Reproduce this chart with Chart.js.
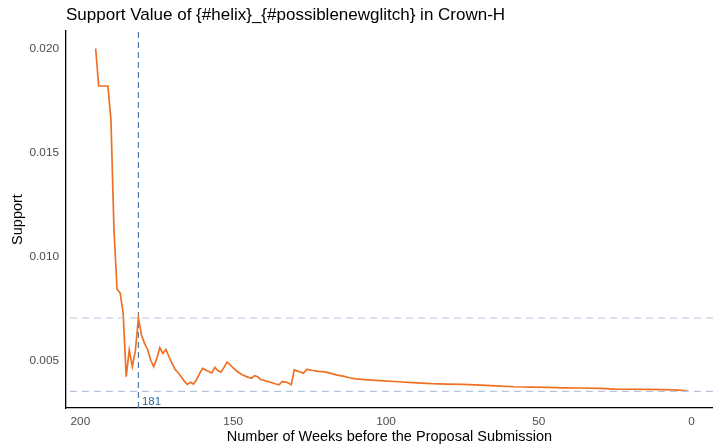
<!DOCTYPE html>
<html>
<head>
<meta charset="utf-8">
<script src="https://cdn.jsdelivr.net/npm/chart.js@4"></script>
<style>
  html, body { margin: 0; padding: 0; background: #fff; overflow: hidden; }
  #wrap { width: 713px; height: 448px; position: relative; }
</style>
</head>
<body>
<div id="wrap"><canvas id="c" width="713" height="448"></canvas></div>
<script>
const chartTitle = "Support Value of {#helix}_{#possiblenewglitch} in Crown-H";
const xTitle = "Number of Weeks before the Proposal Submission";
const yTitle = "Support";
const markedWeek = 181;

const weeks = [
  195, 194, 193, 192, 191, 190, 189, 188, 187, 186,
  185, 184, 183, 182, 181, 180, 179, 178, 177, 176,
  175, 174, 173, 172, 171, 170, 169, 168, 167, 166,
  165, 164, 163, 162, 161, 160, 159, 158, 157, 156,
  155, 154, 153, 152, 151, 150, 149, 148, 147, 146,
  145, 144, 143, 142, 141, 140, 139, 138, 137, 136,
  135, 134, 133, 132, 131, 130, 129, 128, 127, 126,
  125, 124, 123, 122, 121, 120, 118, 116, 114, 112,
  110, 106, 102, 96, 90, 85, 80, 75, 69, 64,
  58, 52, 47, 42, 36, 30, 25, 20, 14, 10,
  6, 3, 1
];
const support = [
  0.0200, 0.0182, 0.0182, 0.0182, 0.0182, 0.0166, 0.0113, 0.00845, 0.00827, 0.0073,
  0.00425, 0.00553, 0.00473, 0.0055, 0.00707, 0.00625, 0.00585, 0.00556, 0.00505, 0.00473,
  0.00513, 0.00564, 0.00537, 0.00556, 0.00521, 0.00489, 0.00460, 0.00444, 0.00425, 0.00404,
  0.00388, 0.00398, 0.00390, 0.00410, 0.00440, 0.00465, 0.00457, 0.00450, 0.00443, 0.00470,
  0.00455, 0.00447, 0.00470, 0.00495, 0.00482, 0.00467, 0.00455, 0.00443, 0.00435, 0.00428,
  0.00422, 0.00418, 0.00430, 0.00425, 0.00412, 0.00408, 0.00403, 0.00400, 0.00395, 0.00390,
  0.00386, 0.00402, 0.00400, 0.00395, 0.00387, 0.00458, 0.00452, 0.00448, 0.00442, 0.00460,
  0.00458, 0.00455, 0.00453, 0.00451, 0.00450, 0.00448, 0.00441, 0.00433, 0.00428, 0.00420,
  0.00415, 0.00410, 0.00406, 0.00401, 0.00396, 0.00392, 0.00390, 0.00388, 0.00385, 0.00381,
  0.00377, 0.00375, 0.00374, 0.00372, 0.00371, 0.00369, 0.00366, 0.00365, 0.00364, 0.00363,
  0.00362, 0.00360, 0.00355
];
const xTicks = [0, 50, 100, 150, 200];
const yTicks = [0.005, 0.010, 0.015, 0.020];

const X_MIN = -7, X_MAX = 204.7;
const Y_MIN = 0.00275, Y_MAX = 0.02084;

const upperRef = support[weeks.indexOf(markedWeek)];
const lowerRef = support[support.length - 1];

const FONT = "'Liberation Sans', Arial, Helvetica, sans-serif";

const lineData = weeks.map((w, i) => ({ x: w, y: support[i] }));

const hLine = (v) => [{ x: X_MIN, y: v }, { x: X_MAX, y: v }];

const overlayPlugin = {
  id: 'overlay',
  afterDraw(chart) {
    const ctx = chart.ctx;
    const xs = chart.scales.x, ys = chart.scales.y;
    ctx.save();
    // main title
    ctx.fillStyle = '#000';
    ctx.font = `17px ${FONT}`;
    ctx.textAlign = 'left';
    ctx.textBaseline = 'alphabetic';
    ctx.fillText(chartTitle, chart.chartArea.left, 20);
    // marked week label
    ctx.fillStyle = '#2F67A0';
    ctx.font = `11.5px ${FONT}`;
    ctx.textBaseline = 'middle';
    ctx.fillText(String(markedWeek), xs.getPixelForValue(markedWeek) + 3.5, ys.bottom - 6.5);
    ctx.restore();
  }
};

new Chart(document.getElementById('c'), {
  type: 'line',
  data: {
    datasets: [
      {
        data: hLine(upperRef),
        borderColor: '#B6C4DC',
        borderWidth: 1.1,
        borderDash: [7, 5],
        pointRadius: 0,
        fill: false
      },
      {
        data: hLine(lowerRef),
        borderColor: '#B6C4DC',
        borderWidth: 1.1,
        borderDash: [7, 5],
        pointRadius: 0,
        fill: false
      },
      {
        data: lineData,
        borderColor: '#F07024',
        borderWidth: 1.7,
        pointRadius: 0,
        tension: 0,
        fill: false
      },
      {
        data: [{ x: markedWeek, y: Y_MIN }, { x: markedWeek, y: Y_MAX }],
        borderColor: '#4D7BA8',
        borderWidth: 1.2,
        borderDash: [6, 4],
        pointRadius: 0,
        fill: false
      }
    ]
  },
  options: {
    responsive: false,
    animation: false,
    parsing: true,
    layout: { padding: { top: 31, right: 0, left: 0, bottom: 0 } },
    plugins: {
      legend: { display: false },
      title: { display: false },
      tooltip: { enabled: false }
    },
    scales: {
      x: {
        type: 'linear',
        reverse: true,
        min: X_MIN,
        max: X_MAX,
        afterBuildTicks: (s) => { s.ticks = xTicks.map(v => ({ value: v })); },
        afterFit: (s) => { s.height = 40; },
        grid: { display: false, drawTicks: false },
        border: { display: true, color: '#000', width: 1.3 },
        ticks: {
          color: '#4D4D4D',
          font: { family: FONT, size: 11.8 },
          padding: 7,
          maxRotation: 0,
          callback: (v) => String(v)
        },
        title: {
          display: true,
          text: xTitle,
          color: '#000',
          font: { family: FONT, size: 14.5 },
          padding: { top: 0, bottom: 2 }
        }
      },
      y: {
        type: 'linear',
        min: Y_MIN,
        max: Y_MAX,
        afterBuildTicks: (s) => { s.ticks = yTicks.map(v => ({ value: v })); },
        afterFit: (s) => { s.width = 66; },
        grid: { display: false, drawTicks: false },
        border: { display: true, color: '#000', width: 1.3 },
        ticks: {
          color: '#4D4D4D',
          font: { family: FONT, size: 11.8 },
          padding: 7,
          callback: (v) => Number(v).toFixed(3)
        },
        title: {
          display: true,
          text: yTitle,
          color: '#000',
          font: { family: FONT, size: 14.5 },
          padding: { top: 9, bottom: 0 }
        }
      }
    }
  },
  plugins: [overlayPlugin]
});
</script>
</body>
</html>
